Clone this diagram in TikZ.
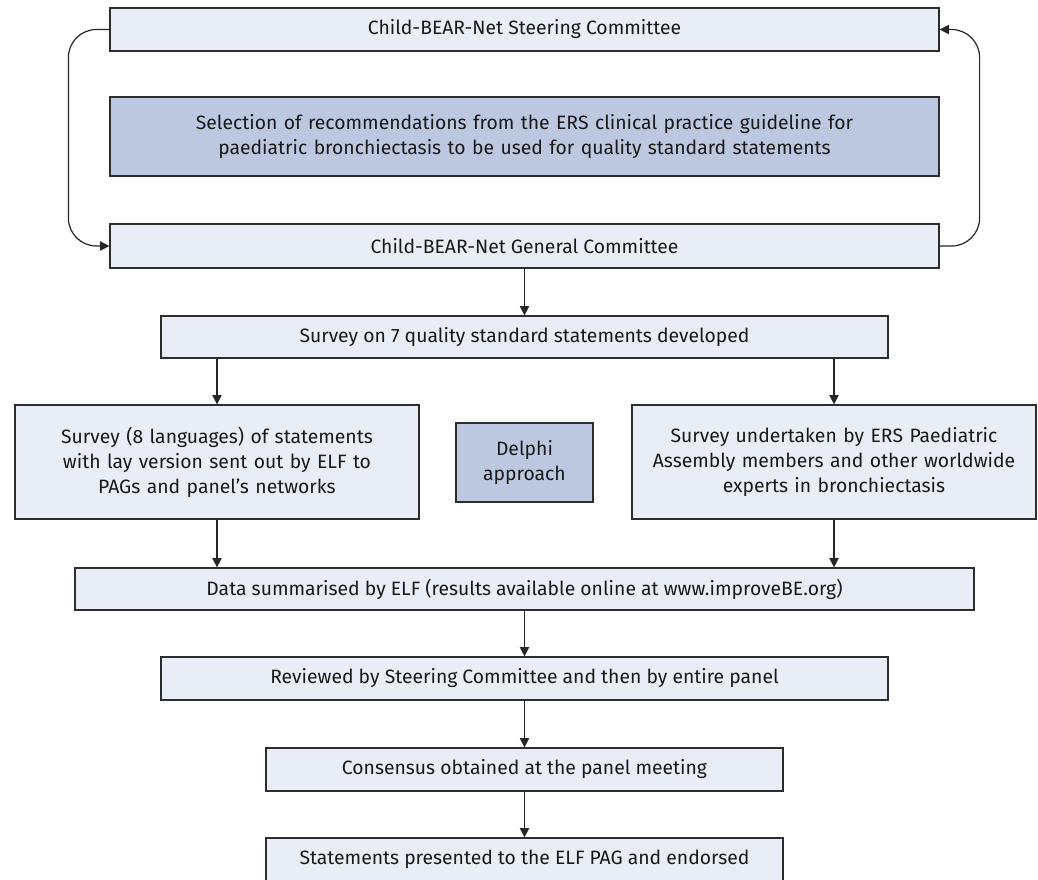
\documentclass[tikz,border=0pt]{standalone}
\usepackage{fontspec}
\setmainfont{Fira Sans}
\usetikzlibrary{arrows.meta}

\definecolor{boxlight}{RGB}{233,238,246}
\definecolor{boxdark}{RGB}{187,200,223}
\definecolor{edgegray}{RGB}{45,45,45}

\tikzset{every picture/.style={line width=0.75pt}}
\tikzset{
stagebox/.style={draw=edgegray, line width=0.9pt, fill=boxlight, inner sep=0pt, align=center,
  font=\fontsize{14.5}{18.75}\selectfont, text=black!90},
keybox/.style={stagebox, fill=boxdark},
flow/.style={draw=black!85, line width=0.9pt, -{Triangle[length=7pt,width=7pt]}}}

\begin{document}
\begin{tikzpicture}[x=0.75pt,y=0.75pt,yscale=-1,xscale=1]
\useasboundingbox (0,0) rectangle (1038,879);

%Shape: Rectangle [steering committee]
\node [stagebox, minimum width=621.75pt, minimum height=32.25pt] (steer) at (524.5,29.5) {Child-BEAR-Net Steering Committee};
%Shape: Rectangle [selection]
\node [keybox, minimum width=621.75pt, minimum height=59.25pt, text width=600pt] (select) at (524.5,136.5) {Selection of recommendations from the ERS clinical practice guideline for\\ paediatric bronchiectasis to be used for quality standard statements};
%Shape: Rectangle [general committee]
\node [stagebox, minimum width=621.75pt, minimum height=33pt] (general) at (524.5,246) {Child-BEAR-Net General Committee};
%Shape: Rectangle [survey]
\node [stagebox, minimum width=545.25pt, minimum height=31.5pt] (survey) at (524.5,337) {Survey on 7 quality standard statements developed};
%Shape: Rectangle [lay survey]
\node [stagebox, minimum width=303pt, minimum height=85.5pt, text width=285pt] (lay) at (217,462) {Survey (8 languages) of statements\\ with lay version sent out by ELF to\\ PAGs and panel’s networks};
%Shape: Rectangle [delphi]
\node [keybox, minimum width=102.75pt, minimum height=59.25pt, text width=90pt] (delphi) at (524.5,462.5) {Delphi\\ approach};
%Shape: Rectangle [expert survey]
\node [stagebox, minimum width=303pt, minimum height=85.5pt, text width=285pt] (expert) at (834,462) {Survey undertaken by ERS Paediatric\\ Assembly members and other worldwide\\ experts in bronchiectasis};
%Shape: Rectangle [data]
\node [stagebox, minimum width=674.25pt, minimum height=31.5pt] (data) at (524.5,589) {Data summarised by ELF (results available online at www.improveBE.org)};
%Shape: Rectangle [review]
\node [stagebox, minimum width=545.25pt, minimum height=32.25pt] (review) at (524.5,678.5) {Reviewed by Steering Committee and then by entire panel};
%Shape: Rectangle [consensus]
\node [stagebox, minimum width=387.75pt, minimum height=32.25pt] (consensus) at (524.5,769.5) {Consensus obtained at the panel meeting};
%Shape: Rectangle [endorsed]
\node [stagebox, minimum width=387.75pt, minimum height=32.25pt] (endorsed) at (524.5,859.5) {Statements presented to the ELF PAG and endorsed};

%Straight Lines [loops]
\draw [flow, rounded corners=21pt] (steer.west) -- ++(-41,0) |- (general.west);
\draw [flow, rounded corners=21pt] (general.east) -- ++(40,0) |- (steer.east);
%Straight Lines [main flow]
\draw [flow] (general) -- (survey);
\draw [flow] (survey.south -| lay.north) -- (lay.north);
\draw [flow] (survey.south -| expert.north) -- (expert.north);
\draw [flow] (lay.south) -- (data.north -| lay.south);
\draw [flow] (expert.south) -- (data.north -| expert.south);
\draw [flow] (data) -- (review);
\draw [flow] (review) -- (consensus);
\draw [flow] (consensus) -- (endorsed);

\end{tikzpicture}
\end{document}
